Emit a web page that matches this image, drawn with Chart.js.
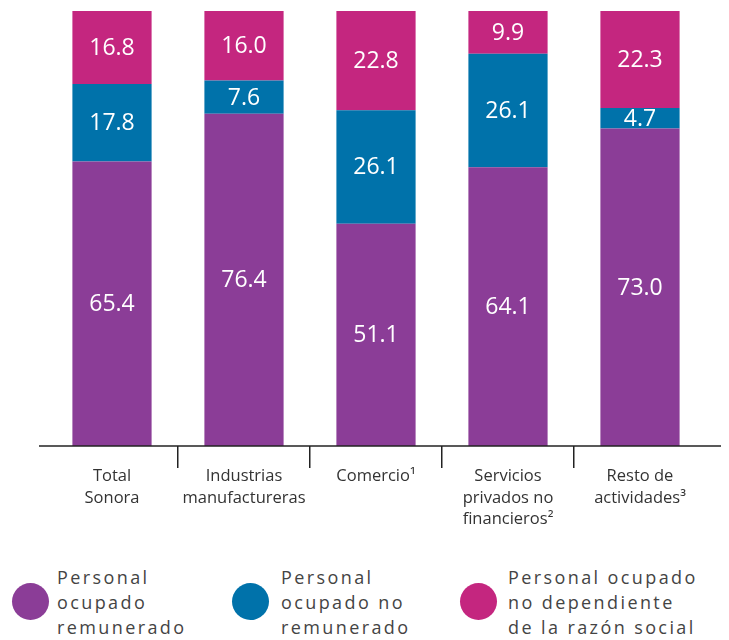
<!DOCTYPE html>
<html>
<head>
<meta charset="utf-8">
<script src="https://cdn.jsdelivr.net/npm/chart.js@4.4.1/dist/chart.umd.min.js"></script>
<style>
  body { margin: 0; background: #fff; width: 729px; height: 640px; overflow: hidden; font-family: "Open Sans", sans-serif; }
  #wrap { position: relative; width: 729px; height: 545px; }
  .legend { position: absolute; top: 565px; left: 0; width: 729px; }
  .item { position: absolute; top: 0; }
  .dot { position: absolute; width: 37px; height: 37px; border-radius: 50%; top: 18px; }
  .txt { position: absolute; top: 0; font-size: 18px; line-height: 25px; letter-spacing: 2.4px; color: #444; white-space: nowrap; }
</style>
</head>
<body>
<div id="wrap"><canvas id="chart"></canvas></div>
<div class="legend" id="legend"></div>
<script>
const categories = [
    ['Total', 'Sonora'],
    ['Industrias', 'manufactureras'],
    ['Comercio¹'],
    ['Servicios', 'privados no', 'financieros²'],
    ['Resto de', 'actividades³']
];
const remunerado = [65.4, 76.4, 51.1, 64.1, 73.0];
const noRemunerado = [17.8, 7.6, 26.1, 26.1, 4.7];
const noDependiente = [16.8, 16.0, 22.8, 9.9, 22.3];

const seriesNames = [
    ['Personal', 'ocupado', 'remunerado'],
    ['Personal', 'ocupado no', 'remunerado'],
    ['Personal ocupado', 'no dependiente', 'de la razón social']
];
const colors = ['#8b3d97', '#0072aa', '#c4267f'];

// value labels centered in each segment
const segmentLabels = {
    id: 'segmentLabels',
    afterDatasetsDraw(chart) {
        const ctx = chart.ctx;
        ctx.save();
        ctx.fillStyle = '#fff';
        ctx.font = '23px "Open Sans", sans-serif';
        ctx.textAlign = 'center';
        ctx.textBaseline = 'middle';
        chart.data.datasets.forEach((ds, i) => {
            chart.getDatasetMeta(i).data.forEach((bar, j) => {
                const mid = (bar.y + bar.base) / 2;
                ctx.fillText(ds.data[j].toFixed(1), bar.x, mid + 1);
            });
        });
        ctx.restore();
    }
};

// axis line running a bit wider than the plot
const axisLine = {
    id: 'axisLine',
    afterDraw(chart) {
        const ctx = chart.ctx;
        const y = chart.scales.x.top;
        ctx.save();
        ctx.strokeStyle = '#222';
        ctx.lineWidth = 1.5;
        ctx.beginPath();
        ctx.moveTo(39, y);
        ctx.lineTo(721, y);
        ctx.stroke();
        ctx.restore();
    }
};

new Chart(document.getElementById('chart'), {
    type: 'bar',
    data: {
        labels: categories,
        datasets: [
            { label: seriesNames[0].join(' '), data: remunerado, backgroundColor: colors[0] },
            { label: seriesNames[1].join(' '), data: noRemunerado, backgroundColor: colors[1] },
            { label: seriesNames[2].join(' '), data: noDependiente, backgroundColor: colors[2] }
        ]
    },
    options: {
        responsive: true,
        maintainAspectRatio: false,
        animation: false,
        layout: { padding: { left: 46, right: 23, top: 11, bottom: 0 } },
        datasets: { bar: { categoryPercentage: 0.6, barPercentage: 1 } },
        scales: {
            x: {
                stacked: true,
                border: { display: false },
                grid: {
                    offset: true,
                    drawOnChartArea: false,
                    tickLength: 22,
                    lineWidth: 1.5,
                    // only the separators between categories, not the outer edges
                    color: ctx => (ctx.type !== 'tick' || ctx.index === 0) ? 'rgba(0,0,0,0)' : '#222'
                },
                ticks: {
                    color: '#333',
                    padding: -2,
                    maxRotation: 0,
                    autoSkip: false,
                    font: { family: '"Open Sans", sans-serif', size: 16.5, lineHeight: 1.3 }
                },
                afterFit: scale => { scale.height = 99; }
            },
            y: { stacked: true, display: false, min: 0, max: 100 }
        },
        plugins: { legend: { display: false }, tooltip: { enabled: false } }
    },
    plugins: [segmentLabels, axisLine]
});

const legendPos = [{ dot: 12, txt: 57 }, { dot: 232, txt: 281 }, { dot: 460, txt: 508 }];
const legend = document.getElementById('legend');
seriesNames.forEach((lines, i) => {
    const el = document.createElement('div');
    el.className = 'item';
    el.innerHTML = `<div class="dot" style="left:${legendPos[i].dot}px;background:${colors[i]}"></div>
        <div class="txt" style="left:${legendPos[i].txt}px">${lines.join('<br>')}</div>`;
    legend.appendChild(el);
});
</script>
</body>
</html>
